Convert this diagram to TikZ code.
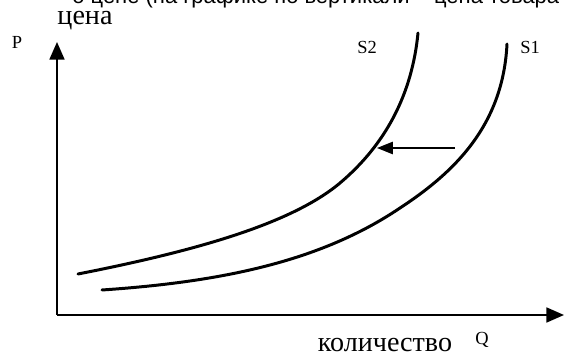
\documentclass[tikz,border=0pt]{standalone}
\usepackage{fontspec}
\setmainfont{Liberation Serif}
\setsansfont{Liberation Sans}
\usetikzlibrary{arrows.meta}

\begin{document}
\begin{tikzpicture}[
  x=0.02cm, y=-0.02cm,
  axis/.style={line width=1.1pt, -{Triangle[length=10pt,width=8.5pt]}},
  supply/.style={line width=1.7pt, line cap=round},
  moveleft/.style={line width=0.9pt, -{Triangle[length=9pt,width=7pt]}},
  small/.style={font=\fontsize{10.5}{12}\selectfont, inner sep=0pt},
  word/.style={font=\fontsize{16}{18}\selectfont, inner sep=0pt}
]
\useasboundingbox (0,0) rectangle (565,357);

% cut-off line of text at the very top
\begin{scope}
  \clip (0,0) rectangle (565,357);
  \node[anchor=base west, inner sep=0pt, font=\sffamily\fontsize{12.5}{14}\selectfont]
    (top) at (72,4) {о цене (на графике по вертикали -- цена товара};
\end{scope}

% axes
\coordinate (O) at (57,315);
\coordinate (ytop) at (57,42);
\coordinate (xend) at (564,315);
\draw[axis] (O) -- (ytop);
\draw[axis] (O) -- (xend);

\node[small] (P) at (17,42) {P};
\node[word, anchor=base] (price) at (85,25) {цена};
\node[word, anchor=base] (qty) at (385,352) {количество};
\node[small] (Q) at (482,340) {Q};

% supply curves
\draw[supply] (78,274) .. controls (190,252) and (290,225) .. (340,183)
  .. controls (385,145) and (412,95) .. (418,33);
\draw[supply] (102,290) .. controls (220,282) and (320,262) .. (400,208)
  .. controls (455,172) and (503,125) .. (507,44);

\node[small] (s2) at (367,47) {S2};
\node[small] (s1) at (530,47) {S1};

% shift of supply
\coordinate (from) at (455,148);
\coordinate (to) at (377,148);
\draw[moveleft] (from) -- (to);

\end{tikzpicture}
\end{document}
